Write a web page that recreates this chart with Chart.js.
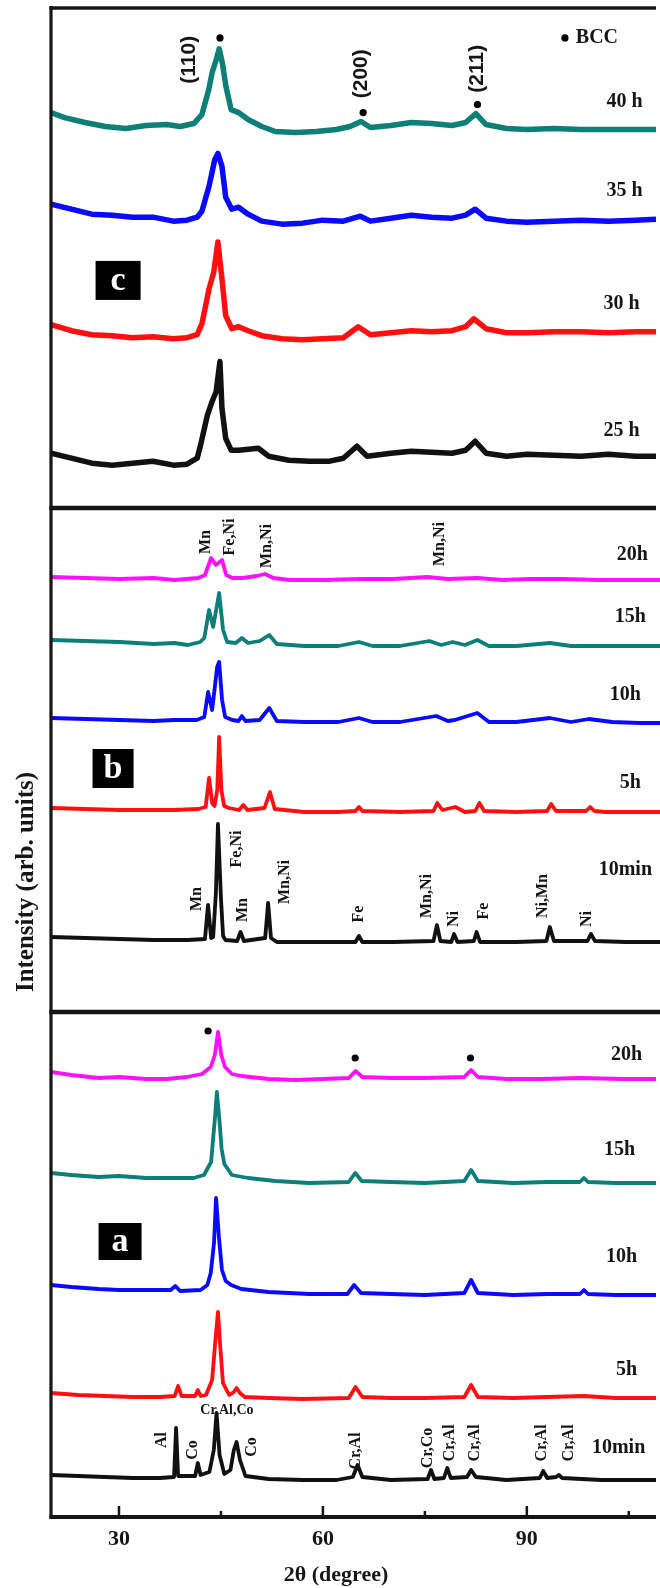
<!DOCTYPE html>
<html>
<head>
<meta charset="utf-8">
<script src="https://cdn.jsdelivr.net/npm/chart.js@4/dist/chart.umd.min.js"></script>
<style>
  html, body { margin: 0; padding: 0; background: #fff; width: 660px; height: 1588px; overflow: hidden; }
  canvas { position: absolute; left: 0; }
</style>
</head>
<body>
<canvas id="panelC" width="660" height="512" style="top:0px"></canvas>
<canvas id="panelB" width="660" height="510" style="top:505px"></canvas>
<canvas id="panelA" width="660" height="581" style="top:1007px"></canvas>
<script>
// ---- 2θ axis ----
const X_MIN = 20, X_MAX = 109;
const MAJOR_TICKS = [30, 60, 90];
const MINOR_TICKS = [45, 75, 105];

// ---- Panel (c): milling 25–40 h, [2θ, intensity] ----
const c40h = [[20,397],[22,392],[25,387],[28,383],[31,381],[34,384],[37,385],[39,383],[41,386],[42.2,395],[43.2,420],[43.7,437],[44.3,450],[44.75,461],[45.2,447],[45.74,423],[46.5,400],[47.6,397],[49,390],[51,383],[53,378],[56,377],[59,378],[62,380],[64,383],[65.6,388],[67,382],[70,384],[73,387],[76,386],[79,384],[81,387],[82.5,396],[84,385],[87,381],[90,380],[94,381],[98,380],[102,380],[106,380],[109,380]];
const c35h = [[20,305],[23,300],[26,295],[29,294],[32,292],[35,292],[38,288],[40,289],[41.5,292],[42.2,298],[43.25,323],[44.1,350],[44.55,356],[45.15,343],[45.7,312],[46.6,300],[47.6,302],[49,295],[51,288],[54,285],[57,286],[60,289],[63,288],[65.5,293],[67,288],[70,291],[73,294],[76,292],[79,291],[81,294],[82.4,300],[84,291],[87,288],[90,287],[94,288],[98,289],[102,288],[106,289],[109,290]];
const c30h = [[20,184],[23,178],[26,174],[29,173],[32,171],[35,172],[38,170],[40,171],[41.5,174],[42.2,185],[43.25,220],[43.95,237],[44.55,267],[45.15,230],[45.7,193],[46.6,180],[47.6,182],[49,178],[51,173],[54,170],[57,169],[60,170],[63,171],[65.2,182],[67,174],[70,176],[73,178],[76,177],[79,178],[81,182],[82.2,190],[84,180],[87,176],[90,176],[94,177],[98,177],[102,176],[106,177],[109,177]];
const c25h = [[20,55],[23,50],[26,45],[29,43],[32,45],[35,47],[38,43],[40,44],[41.5,50],[42.0,63],[43.0,93],[43.7,107],[44.3,117],[44.85,147],[45.15,100],[45.7,70],[46.5,58],[47.6,58],[50.5,60],[52,52],[55,48],[58,47],[61,47],[63,50],[65.0,62],[66.5,52],[70,55],[73,57],[76,56],[79,55],[81,58],[82.4,67],[84,55],[87,52],[90,54],[94,53],[98,52],[102,54],[106,52],[109,52]];
const cBccMarks = [[44.86,472],[65.92,397],[82.74,405],[95.6,472]];

// ---- Panel (b): 10 min – 20 h ----
const b20h = [[20,435],[25,434],[30,433],[35,434],[38,432],[41.5,434],[42.5,437],[43.4,454],[44.1,447],[45.0,452],[45.6,437],[46.5,434],[48,434],[50,436],[51.3,438],[52.5,434],[55,432],[60,432],[65,433],[70,433],[75,435],[78,433],[82.3,434],[86,432],[90,433],[95,433],[100,432],[105,432],[109,432]];
const b15h = [[20,372],[25,371],[30,370],[35,368],[38,369],[40,367],[41.8,370],[42.4,374],[43.1,402],[43.7,385],[44.57,419],[45.15,382],[45.74,370],[47.0,369],[47.9,374],[48.8,369],[50.5,371],[51.9,377],[53,368],[57,366],[62,366],[65.0,370],[67,366],[71,366],[75.3,371],[77,367],[78.7,370],[80.5,367],[82.3,372],[84,366],[88,366],[92.9,369],[96,366],[100,366],[105,366],[109,366]];
const b10h = [[20,294],[25,293],[30,292],[35,291],[38,292],[41.3,292],[42.4,295],[42.96,320],[43.55,302],[44.28,345],[44.57,350],[45.0,312],[45.45,295],[46.5,292],[47.4,291],[47.9,296],[48.4,291],[50.5,292],[51.9,304],[53,291],[57,290],[62,290],[65.0,294],[67,290],[71,290],[76.3,296],[78,291],[79,292],[82.3,299],[84,290],[88,290],[92.9,294],[96,290],[98.6,293],[102,290],[106,289],[109,289]];
const b5h = [[20,204],[25,203],[30,202],[35,202],[38,202],[41.5,203],[42.6,205],[43.1,234],[43.55,209],[43.9,206],[44.3,222],[44.57,275],[44.9,222],[45.3,206],[46.0,204],[47.5,202],[48.1,207],[48.7,202],[51.2,204],[52.0,220],[52.7,203],[57,200],[62,200],[64.5,201],[65.0,205],[65.5,201],[71,200],[75.9,201],[76.45,209],[77.2,202],[79.1,205],[80.5,200],[82.0,201],[82.6,209],[83.3,201],[88,200],[92.5,201],[93.1,208],[93.8,201],[98.2,201],[98.8,205],[99.4,201],[101,200],[105,200],[109,200]];
const b10min = [[20,75],[25,74],[30,73],[35,72],[40,72],[42.5,73],[42.95,107],[43.4,74],[43.7,75],[44.1,119],[44.4,188],[44.85,112],[45.15,76],[45.5,72],[47.2,71],[47.7,80],[48.2,71],[51.3,74],[51.73,109],[52.15,74],[53,70],[58,70],[64.5,70],[65.0,76],[65.5,70],[70,70],[75.9,71],[76.4,87],[76.9,71],[78.5,70],[78.9,78],[79.4,70],[81.8,71],[82.2,80],[82.7,70],[88,70],[92.4,71],[92.9,85],[93.5,71],[98.4,71],[98.9,78],[99.5,71],[104,70],[109,70]];

// ---- Panel (a): 10 min – 20 h ----
const a20h = [[20,445],[23,442],[27,439],[30,440],[34,438],[37,438],[40,440],[42.2,443],[43.5,450],[44.1,462],[44.57,485],[45.05,462],[45.6,450],[46.6,443],[48,441],[52,438],[56,437],[60,438],[63.8,439],[64.8,446],[65.8,440],[70,439],[75,439],[80.8,440],[81.8,447],[82.8,440],[87,438],[92,438],[98,439],[104,438],[109,438]];
const a15h = [[20,344],[23,342],[27,340],[30,341],[34,339],[38,339],[41,339],[42.5,342],[43.55,355],[44.13,400],[44.4,425],[44.8,395],[45.1,368],[45.5,353],[46.6,342],[49,339],[53,336],[58,334],[63.8,335],[64.75,344],[65.7,336],[70,335],[75,334],[80.8,336],[81.8,347],[82.8,336],[88,334],[93,335],[97.8,335],[98.4,339],[99,335],[103,334],[109,334]];
const a10h = [[20,232],[23,230],[27,228],[30,227],[34,227],[37.6,227],[38.3,231],[39,226],[42,227],[43.0,232],[43.5,244],[43.98,274],[44.28,319],[44.7,280],[45.15,247],[45.7,236],[46.5,232],[48,228],[52,225],[58,223],[63.6,223],[64.6,232],[65.6,224],[70,223],[75,222],[80.8,224],[81.8,237],[82.8,224],[88,222],[93,223],[97.8,223],[98.4,227],[99,223],[103,222],[109,222]];
const a5h = [[20,124],[24,122],[28,121],[32,120],[36,120],[38.2,121],[38.7,131],[39.2,121],[41.2,121],[41.6,127],[42.0,121],[42.8,122],[43.7,137],[44.28,184],[44.57,205],[44.86,174],[45.3,134],[46.2,122],[46.9,125],[47.3,129],[47.8,124],[48.5,120],[52,119],[57,118],[63.8,119],[64.8,130],[65.8,120],[70,119],[75,119],[80.8,120],[81.8,132],[82.8,120],[88,119],[93,120],[98.4,121],[103,119],[109,119]];
const a10min = [[20,42],[24,41],[28,40],[32,39],[36,39],[38.1,40],[38.4,89],[38.7,41],[41.2,41],[41.6,54],[42.0,42],[43.3,45],[43.95,67],[44.35,104],[44.8,62],[45.5,43],[46.4,47],[46.9,67],[47.3,75],[47.8,57],[48.6,41],[52,38],[57,37],[62,37],[64.4,40],[65.1,52],[65.8,40],[70,37],[75.4,38],[75.9,47],[76.4,38],[77.8,39],[78.3,49],[78.8,39],[81.2,40],[81.8,47],[82.5,40],[87,37],[91.9,39],[92.4,46],[93.0,39],[94.3,40],[94.7,42],[95.2,39],[101,37],[105,37],[109,37]];
const aBccMarks = [[43.11,486],[64.75,459],[81.71,459]];

// ---- text annotations: [text, 2θ, intensity] ----
const cTimeLabels = [['40 h',104.38,408],['35 h',104.38,318],['30 h',103.94,205],['25 h',103.94,77]];
const cPlaneLabels = [['(110)',40.33,450],['(200)',65.63,436],['(211)',82.74,441]];
const bTimeLabels = [['20h',104.97,457],['15h',104.67,395],['10h',103.94,317],['5h',104.67,229],['10min',103.94,142]];
const bPhaseLabels = [['Mn',42.67,470],['Fe,Ni',46.18,475],['Mn,Ni',51.59,466],['Mn,Ni',76.89,468],
  ['Mn',41.35,113],['Fe,Ni',47.2,163],['Mn',48.08,102],['Mn,Ni',54.22,130],['Fe',65.04,98],
  ['Mn,Ni',74.99,116],['Ni',78.94,93],['Fe',83.32,101],['Ni,Mn',91.95,116],['Ni',98.38,93]];
const aTimeLabels = [['20h',104.67,462],['15h',103.65,367],['10h',103.94,260],['5h',104.67,147],['10min',103.5,69]];
const aPhaseLabels = [['Al',36.38,77],['Co',40.91,67],['Co',49.54,70],['Cr,Al',64.9,66],['Cr,Co',75.43,69],
  ['Cr,Al',78.64,74],['Cr,Al',82.3,74],['Cr,Al',92.24,74],['Cr,Al',96.19,74]];

const TEAL = '#0b7f78', BLUE = '#0a0aff', RED = '#ff1010', MAGENTA = '#ff10ff', BLACK = '#111';
const SERIF = "'Liberation Serif','Times New Roman',serif";
const SANS = "'Liberation Sans',Arial,sans-serif";
const INK = '#161616';

function decor(spec) {
  return {
    id: 'panelDecor',
    afterDatasetsDraw(chart) {
      const { ctx, chartArea: a, scales: { x, y } } = chart;
      const px = v => x.getPixelForValue(v), py = v => y.getPixelForValue(v);
      ctx.save();
      ctx.strokeStyle = INK;
      ctx.lineCap = 'butt';
      // frame lines
      ctx.lineWidth = 3.2;
      ctx.beginPath(); ctx.moveTo(a.left, a.top - 2); ctx.lineTo(a.left, a.bottom + 2); ctx.stroke();
      if (spec.topWidth) {
        ctx.lineWidth = spec.topWidth;
        ctx.beginPath(); ctx.moveTo(a.left - 1.5, a.top); ctx.lineTo(a.right, a.top); ctx.stroke();
      }
      ctx.lineWidth = spec.bottomWidth;
      ctx.beginPath(); ctx.moveTo(a.left - 1.5, a.bottom); ctx.lineTo(a.right, a.bottom); ctx.stroke();
      // inward tick marks on the 2θ axis
      if (spec.ticks) {
        ctx.lineWidth = 2.5;
        for (const v of MAJOR_TICKS) { ctx.beginPath(); ctx.moveTo(px(v), a.bottom); ctx.lineTo(px(v), a.bottom - 11); ctx.stroke(); }
        for (const v of MINOR_TICKS) { ctx.beginPath(); ctx.moveTo(px(v), a.bottom); ctx.lineTo(px(v), a.bottom - 6); ctx.stroke(); }
      }
      ctx.fillStyle = INK;
      ctx.textAlign = 'center'; ctx.textBaseline = 'middle';
      // milling-time labels
      ctx.font = `bold 20px ${SERIF}`;
      for (const [t, vx, vy] of spec.timeLabels) ctx.fillText(t, px(vx), py(vy));
      // rotated phase / plane labels
      const rotated = (list, font) => {
        ctx.font = font;
        for (const [t, vx, vy] of list) {
          ctx.save(); ctx.translate(px(vx), py(vy)); ctx.rotate(-Math.PI / 2); ctx.fillText(t, 0, 0); ctx.restore();
        }
      };
      if (spec.planeLabels) rotated(spec.planeLabels, `bold 21px ${SANS}`);
      if (spec.phaseLabels) rotated(spec.phaseLabels, `bold 16px ${SERIF}`);
      if (spec.extra) spec.extra(ctx, px, py, a);
      // panel letter box
      const [letter, bx, by, bw, bh] = spec.box;
      ctx.fillStyle = '#000';
      ctx.fillRect(px(bx) - bw / 2, py(by) - bh / 2, bw, bh);
      ctx.fillStyle = '#fff';
      ctx.font = `bold 34px ${SERIF}`;
      ctx.fillText(letter, px(bx), py(by) + 1);
      ctx.restore();
    }
  };
}

function makePanel(id, series, marks, yMax, pad, lineWidth, xAxis, spec) {
  const datasets = series.map(([data, color]) => ({
    data: data.map(([x, y]) => ({ x, y })),
    borderColor: color, borderWidth: lineWidth, pointRadius: 0, fill: false,
    borderJoinStyle: 'round', tension: 0
  }));
  if (marks) datasets.push({
    data: marks.map(([x, y]) => ({ x, y })), showLine: false,
    pointRadius: 3.6, pointBackgroundColor: '#000', pointBorderWidth: 0
  });
  return new Chart(document.getElementById(id), {
    type: 'line',
    data: { datasets },
    options: {
      responsive: false, animation: false, events: [],
      layout: { padding: { left: 51, right: 0, top: pad[0], bottom: pad[1] } },
      plugins: { legend: { display: false }, tooltip: { enabled: false } },
      scales: {
        x: Object.assign({ type: 'linear', min: X_MIN, max: X_MAX, display: false }, xAxis || {}),
        y: { type: 'linear', min: 0, max: yMax, display: false }
      }
    },
    plugins: [decor(spec)]
  });
}

makePanel('panelC', [[c40h, TEAL], [c35h, BLUE], [c30h, RED], [c25h, BLACK]], cBccMarks, 502, [8, 2], 5.5, null, {
  topWidth: 3.6, bottomWidth: 4.5, timeLabels: cTimeLabels, planeLabels: cPlaneLabels,
  box: ['c', 29.87, 228.5, 45, 39],
  extra(ctx, px, py) {
    ctx.font = `bold 20px ${SERIF}`; ctx.textAlign = 'left';
    ctx.fillText('BCC', px(97.2), py(472));
    ctx.textAlign = 'center';
  }
});

makePanel('panelB', [[b20h, MAGENTA], [b15h, TEAL], [b10h, BLUE], [b5h, RED], [b10min, BLACK]], null, 502, [5, 3], 3.8, null, {
  bottomWidth: 4.5, timeLabels: bTimeLabels, phaseLabels: bPhaseLabels,
  box: ['b', 29.07, 243.5, 41, 39],
  extra(ctx) {
    ctx.save();
    ctx.font = `bold 25px ${SERIF}`;
    ctx.translate(27, 377); ctx.rotate(-Math.PI / 2);
    ctx.fillText('Intensity (arb. units)', 0, 0);
    ctx.restore();
  }
});

makePanel('panelA', [[a20h, MAGENTA], [a15h, TEAL], [a10h, BLUE], [a5h, RED], [a10min, BLACK]], aBccMarks, 505, [5, 0], 3.8, {
  display: true, position: 'bottom',
  grid: { display: false, drawTicks: false }, border: { display: false },
  ticks: { font: { family: SERIF, size: 22, weight: 'bold' }, color: INK, padding: 9 },
  afterBuildTicks: s => { s.ticks = MAJOR_TICKS.map(v => ({ value: v })); },
  afterFit: s => { s.height = 71; }
}, {
  bottomWidth: 3.8, ticks: true, timeLabels: aTimeLabels, phaseLabels: aPhaseLabels,
  box: ['a', 30.16, 275.5, 43, 37],
  extra(ctx, px, py) {
    ctx.font = `bold 14px ${SERIF}`;
    ctx.fillText('Cr,Al,Co', px(45.88), py(107));
    ctx.font = `bold 22px ${SERIF}`;
    ctx.fillText('2θ (degree)', 336, 568);
  }
});
</script>
</body>
</html>
